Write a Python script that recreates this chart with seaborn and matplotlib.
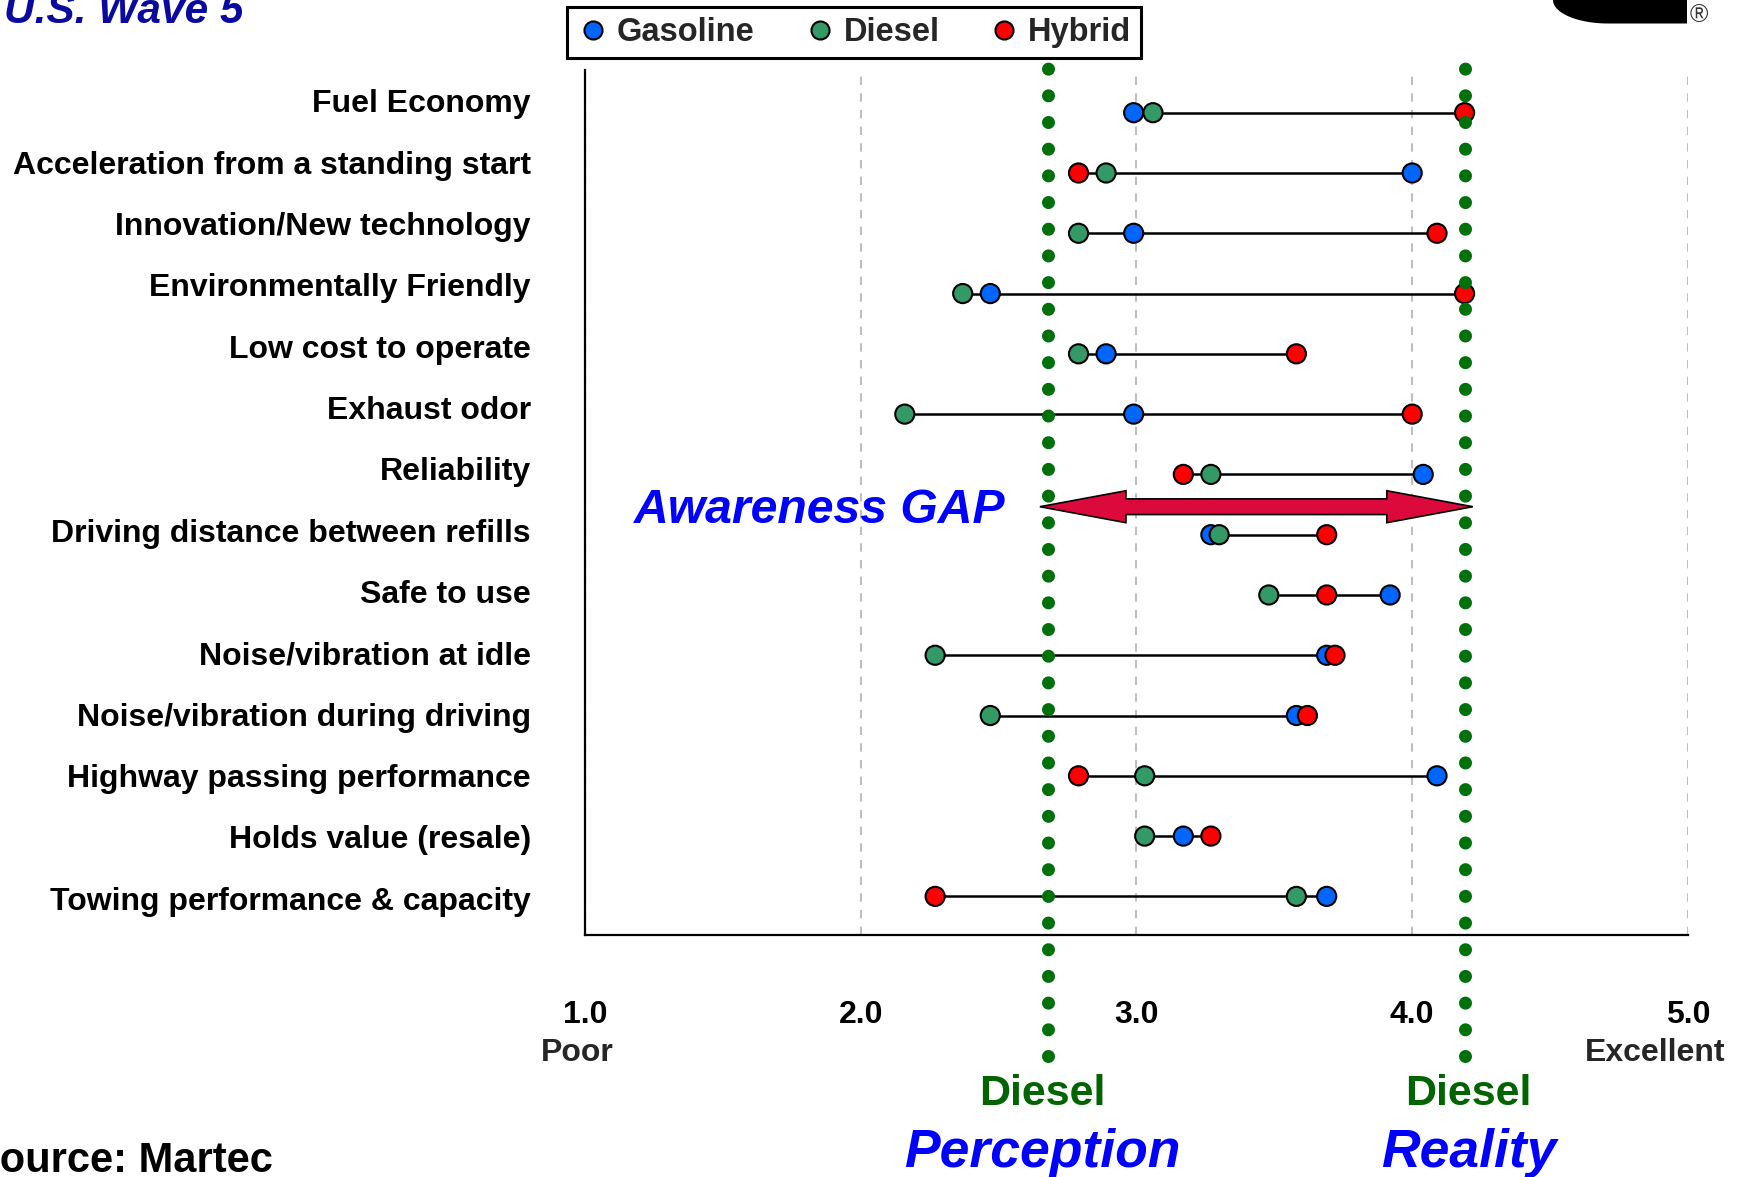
import numpy as np
import pandas as pd
import matplotlib
matplotlib.use("Agg")
import matplotlib.pyplot as plt
from matplotlib.lines import Line2D
from matplotlib.patches import Polygon
from matplotlib.transforms import ScaledTranslation
import seaborn as sns

# ---------------- data ----------------
categories = [
    "Fuel Economy",
    "Acceleration from a standing start",
    "Innovation/New technology",
    "Environmentally Friendly",
    "Low cost to operate",
    "Exhaust odor",
    "Reliability",
    "Driving distance between refills",
    "Safe to use",
    "Noise/vibration at idle",
    "Noise/vibration during driving",
    "Highway passing performance",
    "Holds value (resale)",
    "Towing performance & capacity",
]
gasoline = [2.99, 4.00, 2.99, 2.47, 2.89, 2.99, 4.04, 3.27, 3.92, 3.69, 3.58, 4.09, 3.17, 3.69]
diesel   = [3.06, 2.89, 2.79, 2.37, 2.79, 2.16, 3.27, 3.30, 3.48, 2.27, 2.47, 3.03, 3.03, 3.58]
hybrid   = [4.19, 2.79, 4.09, 4.19, 3.58, 4.00, 3.17, 3.69, 3.69, 3.72, 3.62, 2.79, 3.27, 2.27]

series_names = ["Gasoline", "Diesel", "Hybrid"]
series_colors = ["#0066FF", "#339966", "#FF0000"]

x_ticks = [1.0, 2.0, 3.0, 4.0, 5.0]
x_tick_labels = ["1.0", "2.0", "3.0", "4.0", "5.0"]

diesel_perception = 2.68
diesel_reality = 4.19

# ---------------- styling ----------------
sns.set_theme(style="white")
plt.rcParams["font.family"] = ["Liberation Sans", "DejaVu Sans"]
plt.rcParams["font.weight"] = "bold"

W, H = 1745, 1177
fig = plt.figure(figsize=(W / 100, H / 100), dpi=100)
ax = fig.add_axes([0.3352, 0.2060, 0.6321, 0.7345])

rows = np.arange(len(categories))
df = pd.DataFrame({
    "row": np.tile(rows, 3),
    "score": gasoline + diesel + hybrid,
    "fuel": np.repeat(series_names, len(categories)),
})

# connecting lines (min to max per attribute)
allv = np.array([gasoline, diesel, hybrid])
ax.hlines(rows, allv.min(axis=0), allv.max(axis=0), color="black", lw=1.8, zorder=2)

sns.scatterplot(
    data=df, x="score", y="row", hue="fuel",
    palette=dict(zip(series_names, series_colors)),
    s=190, edgecolor="black", linewidth=1.5, legend=False, zorder=3, ax=ax,
)

# diesel perception / reality dotted lines
for xv in (diesel_perception, diesel_reality):
    ax.axvline(xv, ymin=-0.140, ymax=1.0028, color="#00700A", lw=9.4,
               linestyle=(0, (0.001, 2.043)), dash_capstyle="round",
               clip_on=False, zorder=6)

# awareness gap double arrow
yA = 6.536
tl, tr = diesel_perception - 0.03, diesel_reality + 0.03
hl, hh, sh = 0.312, 0.265, 0.13
arrow_pts = [
    (tl, yA), (tl + hl, yA - hh), (tl + hl, yA - sh), (tr - hl, yA - sh),
    (tr - hl, yA - hh), (tr, yA), (tr - hl, yA + hh), (tr - hl, yA + sh),
    (tl + hl, yA + sh), (tl + hl, yA + hh),
]
ax.add_patch(Polygon(arrow_pts, closed=True, facecolor="#DC0A3C",
                     edgecolor="black", lw=1.2, zorder=5))
ax.text(2.527, 6.807, "Awareness GAP", ha="right", va="baseline",
        fontsize=34.7, fontweight="bold", fontstyle="italic", color="#0000FF", zorder=7)

# axes
ax.set_xlim(1, 5)
ax.set_ylim(13.633, -0.708)
ax.set_xticks(x_ticks)
ax.set_xticklabels(x_tick_labels, fontsize=23, fontweight="bold")
# tick labels 2.0 .. 5.0 sit a few pixels right of their gridlines in the original
for lab in ax.get_xticklabels()[1:]:
    lab.set_transform(lab.get_transform() + ScaledTranslation(8 / 100, 0, fig.dpi_scale_trans))
# category labels sit on a slightly wider pitch than the marker rows
label_pos = rows * 1.01775 - 0.199
ax.set_yticks(label_pos)
ax.set_yticklabels(categories, fontsize=23, fontweight="bold")
ax.tick_params(axis="x", length=0, pad=47, colors="black")
ax.tick_params(axis="y", length=0, pad=39, colors="black")
ax.set_xlabel("")
ax.set_ylabel("")
ax.xaxis.grid(True, color="#BFBFBF", linestyle=(0, (4, 4)), linewidth=1.5)
ax.yaxis.grid(False)
ax.set_axisbelow(True)
for side in ("top", "right"):
    ax.spines[side].set_visible(False)
for side in ("left", "bottom"):
    ax.spines[side].set_color("black")
    ax.spines[side].set_linewidth(1.6)

# axis end descriptions
fig.text(576.8 / W, 1 - 1061 / H, "Poor", ha="center", va="baseline",
         fontsize=23, fontweight="bold")
fig.text(1725 / W, 1 - 1061 / H, "Excellent", ha="right", va="baseline",
         fontsize=23, fontweight="bold")

# Diesel perception / reality labels
xt = ax.get_xaxis_transform()
for xv, dx, word in ((diesel_perception, -0.02, "Perception"),
                     (diesel_reality, 0.015, "Reality")):
    ax.text(xv + dx, -0.1972, "Diesel", transform=xt, ha="center", va="baseline",
            fontsize=31, fontweight="bold", color="#006400", clip_on=False)
    ax.text(xv + dx, -0.2686, word, transform=xt, ha="center", va="baseline",
            fontsize=38.5, fontweight="bold", fontstyle="italic", color="#0000FF",
            clip_on=False)

# legend
handles = [Line2D([], [], marker="o", linestyle="", markerfacecolor=c,
                  markeredgecolor="black", markeredgewidth=1.5, markersize=13)
           for c in series_colors]
leg = fig.legend(handles, series_names, loc="upper left",
                 bbox_to_anchor=(567 / W, 1 - 7.5 / H), borderaxespad=0,
                 ncol=3, frameon=True, fancybox=False, framealpha=1,
                 edgecolor="black", prop={"size": 23.5, "weight": "bold"},
                 handlelength=1.0, handletextpad=0.23, columnspacing=1.49,
                 borderpad=0.3)
leg.get_frame().set_linewidth(2.2)

# title (partly cut off) and source
fig.text(3.6 / W, 1 - 23 / H, "U.S. Wave 5", ha="left", va="baseline",
         fontsize=30.5, fontweight="bold", fontstyle="italic", color="#0A0A9E")
fig.text(273 / W, 1 - 1171.7 / H, "Source: Martec", ha="right", va="baseline",
         fontsize=30, fontweight="bold", color="black")

# logo fragment (top right)
t = np.linspace(0, np.pi / 2, 30)
arc = [(1608 - 55 * np.sin(a), 23.5 * np.cos(a)) for a in t]
logo_px = [(1687, -5), (1687, 23.5)] + arc + [(1553, -5)]
logo = [(x / W, 1 - y / H) for x, y in logo_px]
fig.patches.append(Polygon(logo, closed=True, facecolor="black", edgecolor="none",
                           transform=fig.transFigure, figure=fig))
fig.text(1699 / W, 1 - 15 / H, "\u00ae", ha="center", va="center",
         fontsize=18, color="#333333", fontweight="normal")

fig.savefig("out.png", dpi=100)
